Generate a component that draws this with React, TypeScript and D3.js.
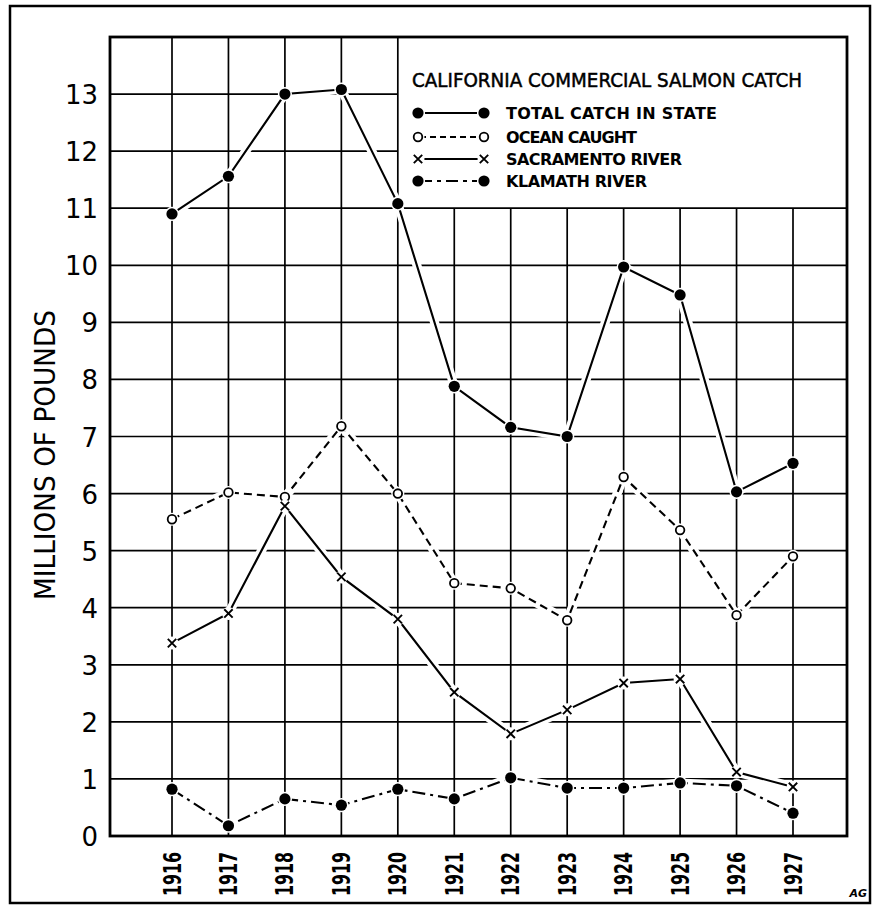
import React from "react";
import * as d3 from "d3";

const years = [1916, 1917, 1918, 1919, 1920, 1921, 1922, 1923, 1924, 1925, 1926, 1927];
const totalCatch = [10.9, 11.56, 13.0, 13.08, 11.08, 7.88, 7.16, 7.0, 9.97, 9.48, 6.03, 6.53];
const oceanCaught = [5.55, 6.02, 5.94, 7.18, 6.0, 4.43, 4.34, 3.78, 6.29, 5.36, 3.87, 4.9];
const sacramentoRiver = [3.38, 3.9, 5.78, 4.54, 3.8, 2.52, 1.79, 2.21, 2.68, 2.75, 1.12, 0.86];
const klamathRiver = [0.82, 0.18, 0.65, 0.54, 0.82, 0.65, 1.02, 0.84, 0.84, 0.93, 0.88, 0.4];
const yTicks = [0, 1, 2, 3, 4, 5, 6, 7, 8, 9, 10, 11, 12, 13];
const title = "CALIFORNIA COMMERCIAL SALMON CATCH";
const seriesNames = ["TOTAL CATCH IN STATE", "OCEAN CAUGHT", "SACRAMENTO RIVER", "KLAMATH RIVER"];
const yTitle = "MILLIONS OF POUNDS";

type Kind = "dot" | "open" | "x";
const series: { name: string; values: number[]; dash: string; legendDash: string; kind: Kind; textLen: number }[] = [
  { name: seriesNames[0], values: totalCatch, dash: "none", legendDash: "none", kind: "dot", textLen: 211 },
  { name: seriesNames[1], values: oceanCaught, dash: "8,5", legendDash: "6,4", kind: "open", textLen: 131 },
  { name: seriesNames[2], values: sacramentoRiver, dash: "none", legendDash: "none", kind: "x", textLen: 176 },
  { name: seriesNames[3], values: klamathRiver, dash: "13,5,3,5", legendDash: "12,5,4,5", kind: "dot", textLen: 141 },
];

const W = 873;
const H = 905;
const left = 110;
const right = 847;
const top = 37;
const bottom = 836;

const FONT = "'DejaVu Sans', 'Liberation Sans', sans-serif";

function Marker({ kind, cx, cy }: { kind: Kind; cx: number; cy: number }) {
  if (kind === "dot") {
    return <circle cx={cx} cy={cy} r={5.6} fill="#000" stroke="#fff" strokeWidth={3} paintOrder="stroke" />;
  }
  if (kind === "open") {
    return (
      <g>
        <circle cx={cx} cy={cy} r={6.5} fill="#fff" />
        <circle cx={cx} cy={cy} r={4.3} fill="#fff" stroke="#000" strokeWidth={1.8} />
      </g>
    );
  }
  const s = 4.2;
  return (
    <g>
      <circle cx={cx} cy={cy} r={6.5} fill="#fff" />
      <path
        d={`M${cx - s},${cy - s}L${cx + s},${cy + s}M${cx - s},${cy + s}L${cx + s},${cy - s}`}
        stroke="#000"
        strokeWidth={1.9}
      />
    </g>
  );
}

export default function App() {
  const x = d3.scaleLinear().domain([years[0], years[years.length - 1]]).range([172, 793]);
  const y = d3.scaleLinear().domain([0, 14]).range([bottom, top]);
  const legendX = x(1920);
  const legendBottom = y(11);

  const line = d3
    .line<number>()
    .x((_, i) => x(years[i]))
    .y((v) => y(v));

  const legendRows = [113, 137, 159, 181];

  return (
    <svg
      width={W}
      height={H}
      viewBox={`0 0 ${W} ${H}`}
      style={{ position: "absolute", left: 0, top: 0, background: "#fff" }}
    >
      <rect x={0} y={0} width={W} height={H} fill="#fff" />
      {/* outer border */}
      <rect x={10} y={6} width={860} height={897} fill="none" stroke="#000" strokeWidth={2.5} />

      {/* horizontal grid */}
      {yTicks
        .filter((t) => t > 0)
        .map((t) => (
          <line
            key={"h" + t}
            x1={left}
            x2={t > 11 ? legendX : right}
            y1={y(t)}
            y2={y(t)}
            stroke="#000"
            strokeWidth={1.7}
          />
        ))}
      {/* vertical grid */}
      {years.map((yr) => (
        <line
          key={"v" + yr}
          x1={x(yr)}
          x2={x(yr)}
          y1={yr > 1920 ? legendBottom : top}
          y2={bottom}
          stroke="#000"
          strokeWidth={1.7}
        />
      ))}

      {/* white halos to break grid around data lines */}
      {series.map((s) => (
        <path key={"halo" + s.name} d={line(s.values) || ""} fill="none" stroke="#fff" strokeWidth={9} />
      ))}

      {/* frame */}
      <rect x={left} y={top} width={right - left} height={bottom - top} fill="none" stroke="#000" strokeWidth={2.8} />

      {/* data lines */}
      {series.map((s) => (
        <path
          key={"line" + s.name}
          d={line(s.values) || ""}
          fill="none"
          stroke="#000"
          strokeWidth={2.1}
          strokeDasharray={s.dash}
        />
      ))}
      {/* markers */}
      {series.map((s) =>
        s.values.map((v, i) => <Marker key={s.name + i} kind={s.kind} cx={x(years[i])} cy={y(v)} />)
      )}

      {/* y tick labels */}
      {yTicks.map((t) => (
        <text
          key={"yt" + t}
          x={98}
          y={y(t) + 1}
          textAnchor="end"
          dominantBaseline="central"
          fontFamily={FONT}
          fontSize={26}
          fill="#000"
        >
          {t}
        </text>
      ))}

      {/* x tick labels */}
      {years.map((yr) => (
        <text
          key={"xt" + yr}
          transform={`translate(${x(yr)},896) rotate(-90)`}
          textAnchor="start"
          dominantBaseline="central"
          fontFamily={FONT}
          fontSize={25}
          fontWeight="bold"
          textLength={44}
          lengthAdjust="spacingAndGlyphs"
          fill="#000"
        >
          {yr}
        </text>
      ))}

      {/* y axis title */}
      <text
        transform={`translate(45,455) rotate(-90)`}
        textAnchor="middle"
        dominantBaseline="central"
        fontFamily={FONT}
        fontSize={29}
        textLength={290}
        lengthAdjust="spacingAndGlyphs"
        fill="#000"
      >
        {yTitle}
      </text>

      {/* legend */}
      <text
        x={412}
        y={87}
        fontFamily={FONT}
        fontSize={19}
        fontWeight={500}
        textLength={390}
        lengthAdjust="spacingAndGlyphs"
        fill="#000"
        stroke="#000"
        strokeWidth={0.5}
      >
        {title}
      </text>
      {series.map((s, i) => {
        const ry = legendRows[i];
        return (
          <g key={"leg" + s.name}>
            <line x1={420} x2={483} y1={ry} y2={ry} stroke="#000" strokeWidth={2.1} strokeDasharray={s.legendDash} />
            <Marker kind={s.kind} cx={418} cy={ry} />
            <Marker kind={s.kind} cx={484} cy={ry} />
            <text
              x={506}
              y={ry + 6}
              fontFamily={FONT}
              fontSize={16}
              fontWeight="bold"
              textLength={s.textLen}
              lengthAdjust="spacing"
              fill="#000"
            >
              {s.name}
            </text>
          </g>
        );
      })}

      {/* initials */}
      <text x={867} y={897} textAnchor="end" fontFamily={FONT} fontSize={11} fontWeight="bold" fontStyle="italic" fill="#000">
        AG
      </text>
    </svg>
  );
}
